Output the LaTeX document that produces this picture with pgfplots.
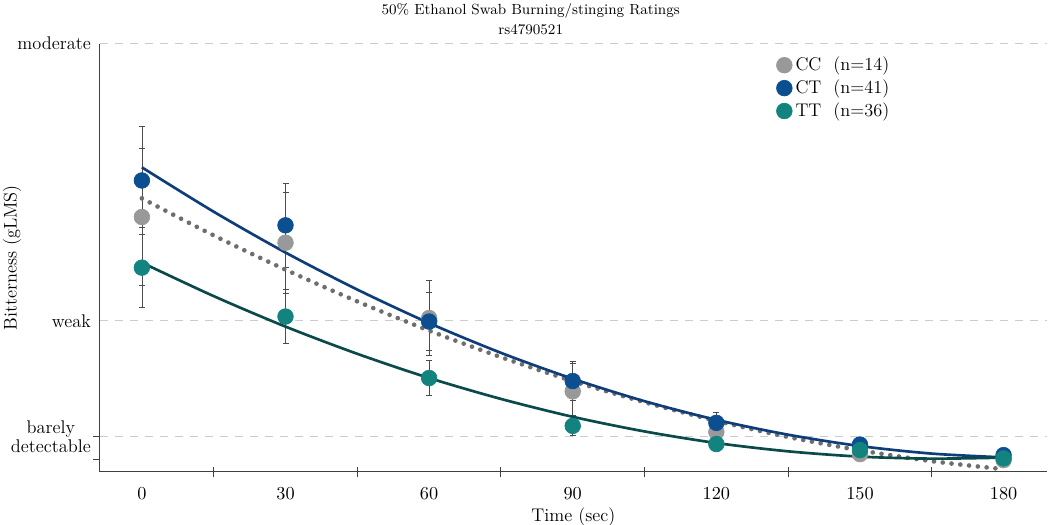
\documentclass[border=0pt]{standalone}
\usepackage{pgfplots}
\pgfplotsset{compat=1.18}

\definecolor{ccdot}{HTML}{999999}
\definecolor{ctdot}{HTML}{0B4F91}
\definecolor{ttdot}{HTML}{12837F}
\definecolor{ctline}{HTML}{0E3D7A}
\definecolor{ttline}{HTML}{0A4A4A}
\definecolor{ccline}{HTML}{6E6E6E}

% means and error bars per genotype
\pgfplotstableread{
x   cc    ccerr  ct    cterr  tt    tterr
0   10.12 2.70   11.57 2.16   8.11  1.59
30  9.10  2.00   9.79  1.66   6.17  1.08
60  6.11  1.50   5.97  1.16   3.73  0.70
90  3.20  1.10   3.61  0.78   1.83  0.40
120 1.59  0.25   1.95  0.41   1.11  0.20
150 0.71  0.15   1.09  0.15   0.87  0.12
180 0.47  0.10   0.67  0.10   0.54  0.08
}\means

% fitted curves
\pgfplotstableread{
x   cc    ct    tt
0   10.86 12.09 8.31
15  9.39  10.33 6.98
30  8.03  8.71  5.77
45  6.77  7.24  4.69
60  5.61  5.91  3.73
75  4.56  4.73  2.90
90  3.61  3.70  2.19
105 2.77  2.81  1.61
120 2.03  2.07  1.15
135 1.39  1.48  0.82
150 0.86  1.03  0.61
165 0.43  0.73  0.53
180 0.11  0.58  0.57
}\fits

\begin{document}
\begin{tikzpicture}
\useasboundingbox (-60pt,-31.8pt) rectangle (570pt,283.2pt);
\begin{axis}[
  scale only axis,
  width=568pt, height=257pt,
  xmin=-8.75, xmax=189, ymin=0, ymax=17,
  axis lines*=left,
  axis line style={black!75, line width=0.6pt},
  xtick={0,30,...,180},
  minor xtick={15,45,...,165},
  major tick length=0pt,
  minor tick length=6.5pt,
  tick align=center,
  tick style={black!75, line width=0.6pt},
  xticklabel style={font=\fontsize{11}{13}\selectfont, yshift=-6pt},
  ytick={1.4,6,17},
  yticklabels={{barely\\detectable},weak,moderate},
  yticklabel style={align=center, font=\fontsize{11}{11.5}\selectfont, xshift=-2pt},
  extra y ticks={0.5,1.4},
  extra y tick labels={},
  extra y tick style={major tick length=4pt, tick align=outside, grid=none},
  ymajorgrids,
  grid style={black!20, line width=0.8pt, dash pattern=on 5pt off 4pt},
  xlabel={Time (sec)},
  xlabel style={font=\fontsize{11}{13}\selectfont, yshift=2pt},
  ylabel={Bitterness (gLMS)},
  ylabel style={font=\fontsize{11}{13}\selectfont, at={(axis description cs:-0.093,0.5)}, anchor=center},
  title={50\% Ethanol Swab Burning/stinging Ratings\\rs4790521},
  title style={align=center, font=\fontsize{8.8}{12}\selectfont, at={(0.455,1)}, anchor=south, yshift=-4pt},
  legend style={at={(0.709,0.985)}, anchor=north west, draw=none, fill=none,
    row sep=0pt, font=\fontsize{11}{13}\selectfont},
  legend image post style={xshift=-3pt},
  legend cell align=left,
  clip=false,
]
% error bars first, dots above them
\addplot[black!70, line width=0.6pt, only marks, mark=none, forget plot,
  error bars/.cd, y dir=both, y explicit,
  error mark options={rotate=90, black!70, mark size=1.8pt, line width=0.6pt}]
  table[x=x, y=cc, y error=ccerr] {\means};
\addplot[black!70, line width=0.6pt, only marks, mark=none, forget plot,
  error bars/.cd, y dir=both, y explicit,
  error mark options={rotate=90, black!70, mark size=1.8pt, line width=0.6pt}]
  table[x=x, y=ct, y error=cterr] {\means};
\addplot[black!70, line width=0.6pt, only marks, mark=none, forget plot,
  error bars/.cd, y dir=both, y explicit,
  error mark options={rotate=90, black!70, mark size=1.8pt, line width=0.6pt}]
  table[x=x, y=tt, y error=tterr] {\means};

\addplot[only marks, mark=*, mark size=4.7pt, color=ccdot] table[x=x, y=cc] {\means};
\addlegendentry{CC\ \ (n=14)}
\addplot[only marks, mark=*, mark size=4.7pt, color=ctdot] table[x=x, y=ct] {\means};
\addlegendentry{CT\ \ (n=41)}
\addplot[only marks, mark=*, mark size=4.7pt, color=ttdot] table[x=x, y=tt] {\means};
\addlegendentry{TT\ \ (n=36)}

\addplot[forget plot, no marks, smooth, ccline, line width=2.8pt, line cap=round,
  dash pattern=on 0pt off 5.3pt] table[x=x, y=cc] {\fits};
\addplot[forget plot, no marks, smooth, ctline, line width=1.6pt] table[x=x, y=ct] {\fits};
\addplot[forget plot, no marks, smooth, ttline, line width=1.6pt] table[x=x, y=tt] {\fits};
\end{axis}
\end{tikzpicture}
\end{document}
